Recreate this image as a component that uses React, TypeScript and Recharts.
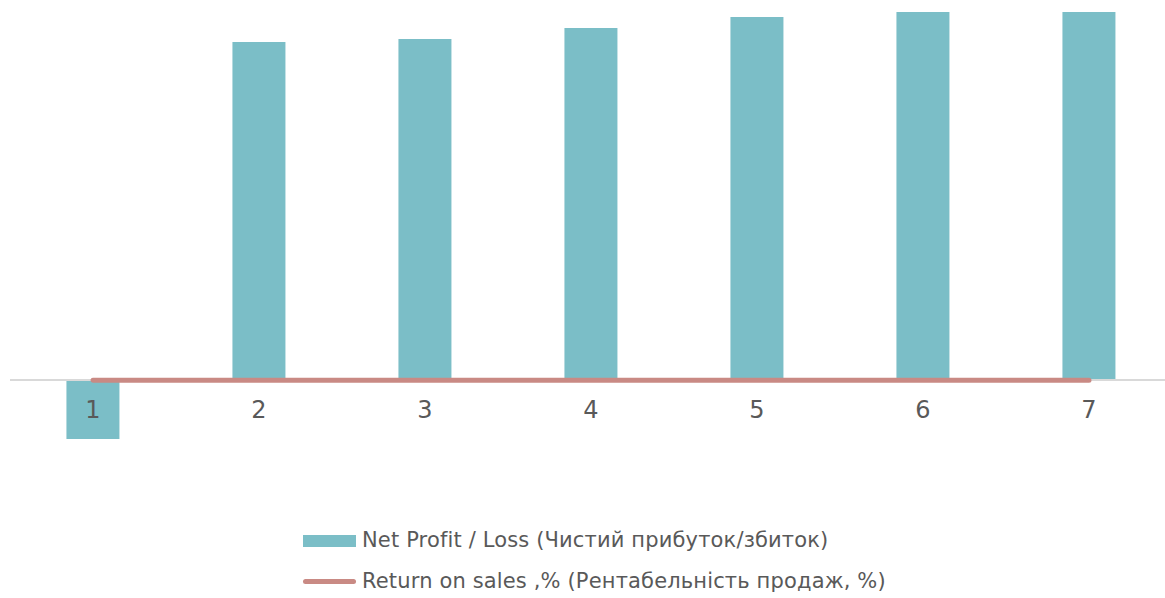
import React from "react";
import { ComposedChart, Bar, Line, XAxis, YAxis, ReferenceLine, LabelList } from "recharts";

const periods = ["1", "2", "3", "4", "5", "6", "7"];
const netProfit = [-5.9, 33.8, 34.1, 35.2, 36.3, 36.8, 36.8];
const returnOnSales = [-0.03, -0.02, -0.02, -0.02, -0.02, -0.02, -0.02];

const BAR_COLOR = "#7BBEC7";
const LINE_COLOR = "#C98A84";
const TEXT_COLOR = "#595959";
const FONT = "Tahoma, 'DejaVu Sans', sans-serif";

const data = periods.map((p, i) => ({
  name: p,
  profit: netProfit[i],
  ros: returnOnSales[i],
}));

export default function App() {
  return (
    <div
      style={{
        position: "absolute",
        left: 0,
        top: 0,
        width: 1165,
        height: 598,
        overflow: "hidden",
        background: "#fff",
        fontFamily: FONT,
      }}
    >
      <ComposedChart
        width={1180}
        height={598}
        data={data}
        margin={{ top: 10, right: 8, left: 10, bottom: 158 }}
        barCategoryGap="34%"
      >
        <XAxis dataKey="name" hide />
        <YAxis hide domain={[-6, 37]} />
        <ReferenceLine y={0} stroke="#D9D9D9" strokeWidth={2} ifOverflow="extendDomain" />
        <Bar dataKey="profit" fill={BAR_COLOR} isAnimationActive={false} />
        <Line
          dataKey="ros"
          stroke={LINE_COLOR}
          strokeWidth={5}
          strokeLinecap="round"
          dot={false}
          activeDot={false}
          isAnimationActive={false}
        >
          <LabelList
            dataKey="name"
            position="bottom"
            offset={21}
            fill={TEXT_COLOR}
            fontSize={24}
            fontFamily={FONT}
          />
        </Line>
      </ComposedChart>
      <div
        style={{
          position: "absolute",
          left: 303,
          top: 520,
          color: TEXT_COLOR,
          fontSize: 21,
          lineHeight: "41px",
          letterSpacing: 0.15,
          whiteSpace: "nowrap",
        }}
      >
        <div style={{ display: "flex", alignItems: "center" }}>
          <span style={{ display: "inline-block", width: 53, height: 12, background: BAR_COLOR, marginRight: 6 }} />
          Net Profit / Loss (Чистий прибуток/збиток)
        </div>
        <div style={{ display: "flex", alignItems: "center" }}>
          <span
            style={{
              display: "inline-block",
              width: 53,
              height: 5,
              borderRadius: 3,
              background: LINE_COLOR,
              marginRight: 6,
            }}
          />
          Return on sales ,% (Рентабельність продаж, %)
        </div>
      </div>
    </div>
  );
}
